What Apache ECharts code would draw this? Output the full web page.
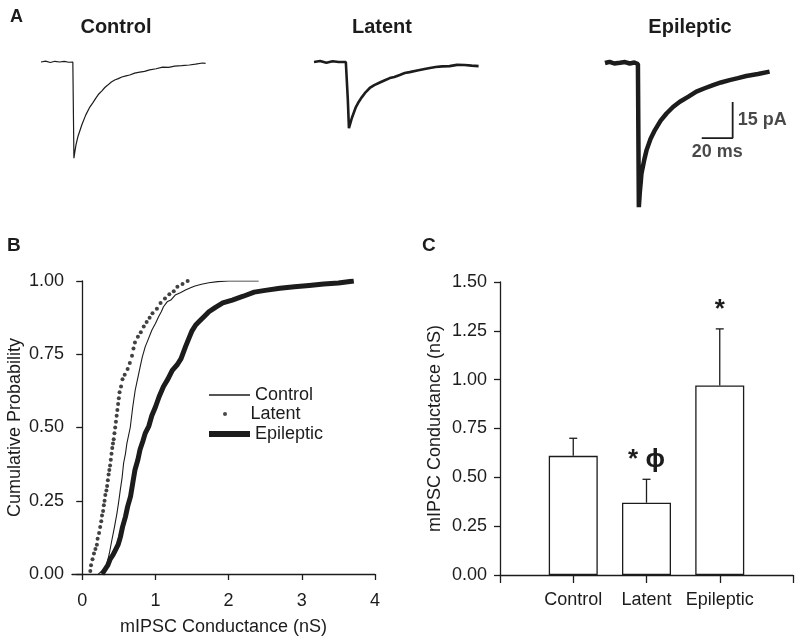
<!DOCTYPE html>
<html><head><meta charset="utf-8">
<script src="https://cdn.jsdelivr.net/npm/echarts@6/dist/echarts.min.js"></script>
<style>html,body{margin:0;padding:0;background:#fff}#c{width:800px;height:644px}</style>
</head><body><div id="c"></div>
<script>
// ---------- Panel A: example mIPSC traces (time in ms, current in pA) ----------
const controlTraceT = [0, 3, 6, 9, 12, 15, 18, 20.6, 21.3, 22.0, 22.6, 23.9, 25.2, 26.5, 29, 31.6, 33.5, 35.5, 37.4, 39.4, 41.3, 43.2, 45.5, 47.7, 50, 52.3, 55, 57.4, 60.6, 63.9, 67, 70.3, 74.5, 78.7, 82.6, 86.5, 91, 96, 100, 104.5, 106.5];
const controlTraceI = [0, 0.4, -0.2, 0.3, 0, 0.3, -0.1, 0, -40, -37, -34.6, -31, -28.5, -26, -22, -18.75, -17, -15, -13.3, -12, -10.6, -9.6, -8.3, -7.5, -6.9, -6.25, -5.8, -5.4, -4.6, -4.2, -3.9, -3.3, -2.8, -2.1, -2.2, -1.7, -1.5, -1.25, -0.9, -0.4, -0.6];
const latentTraceT = [0, 4, 8, 12, 16, 20.6, 21.9, 22.6, 23.5, 24.5, 25.8, 27.1, 29, 31, 33.5, 36.1, 39, 41.9, 45.5, 49, 52, 55.5, 58.7, 61.9, 66.8, 71.6, 75, 78.7, 83, 87.7, 92.5, 97.4, 102, 106.5];
const latentTraceI = [0, 0.4, -0.3, 0.3, 0, 0, -15.8, -27.5, -25.5, -23.3, -21, -18.75, -16.5, -14.6, -12.5, -10.8, -9.6, -8.75, -7.7, -6.7, -6.2, -5.4, -4.6, -4.2, -3.5, -2.9, -2.5, -2.1, -1.8, -1.7, -1.2, -1.25, -1.5, -1.7];
const epiTraceT = [0, 3, 6, 9.7, 13, 16, 19, 21.3, 21.9, 22.5, 23.2, 23.6, 25.5, 26.9, 29.5, 32.3, 36, 39.8, 44, 48.4, 54, 59.1, 64.5, 69.9, 75, 80.6, 86, 91.4, 99, 106.5];
const epiTraceI = [0, 0.5, -0.2, 0.1, 0.4, -0.2, 0.2, -0.4, -60, -54, -49, -46, -40, -36.25, -31.5, -27.9, -24, -21, -18.3, -16.1, -14, -11.9, -10.5, -9.2, -8.1, -7.1, -6.3, -5.4, -4.6, -3.6];
const scaleBarMs = 20, scaleBarPa = 15;
const scaleBarCornerT = 82.6, scaleBarCornerI = -31.25;

// ---------- Panel B: cumulative probability ----------
const controlCdfX = [0.22, 0.27, 0.31, 0.34, 0.37, 0.405, 0.44, 0.474, 0.50, 0.52, 0.545, 0.565, 0.59, 0.61, 0.656, 0.69, 0.724, 0.76, 0.792, 0.82, 0.861, 0.90, 0.952, 1.00, 1.043, 1.08, 1.11, 1.16, 1.21, 1.27, 1.34, 1.41, 1.48, 1.54, 1.63, 1.73, 1.85, 2.00, 2.41];
const controlCdfP = [0, 0.01, 0.02, 0.036, 0.07, 0.116, 0.16, 0.207, 0.25, 0.287, 0.33, 0.378, 0.41, 0.446, 0.50, 0.57, 0.628, 0.67, 0.708, 0.74, 0.776, 0.80, 0.833, 0.855, 0.878, 0.895, 0.912, 0.929, 0.935, 0.952, 0.96, 0.969, 0.977, 0.983, 0.989, 0.994, 0.998, 1.0, 1.0];
const latentCdfX = [0.11, 0.12, 0.14, 0.16, 0.18, 0.20, 0.21, 0.23, 0.245, 0.26, 0.27, 0.285, 0.295, 0.305, 0.315, 0.33, 0.34, 0.35, 0.36, 0.37, 0.38, 0.39, 0.40, 0.41, 0.42, 0.43, 0.44, 0.45, 0.46, 0.47, 0.48, 0.49, 0.50, 0.51, 0.53, 0.55, 0.58, 0.62, 0.65, 0.68, 0.70, 0.72, 0.76, 0.80, 0.84, 0.88, 0.92, 0.96, 1.02, 1.07, 1.13, 1.19, 1.25, 1.30, 1.37, 1.44];
const latentCdfP = [0.01, 0.03, 0.05, 0.07, 0.085, 0.10, 0.12, 0.14, 0.16, 0.18, 0.20, 0.215, 0.235, 0.25, 0.27, 0.285, 0.30, 0.32, 0.34, 0.355, 0.37, 0.39, 0.41, 0.43, 0.445, 0.46, 0.48, 0.50, 0.52, 0.54, 0.56, 0.58, 0.60, 0.62, 0.64, 0.665, 0.68, 0.70, 0.72, 0.745, 0.77, 0.79, 0.81, 0.825, 0.845, 0.86, 0.875, 0.89, 0.905, 0.925, 0.94, 0.955, 0.965, 0.98, 0.99, 1.0];
const epiCdfX = [0.27, 0.31, 0.35, 0.38, 0.42, 0.45, 0.49, 0.52, 0.55, 0.59, 0.62, 0.66, 0.69, 0.72, 0.76, 0.79, 0.83, 0.86, 0.91, 0.95, 1.00, 1.05, 1.11, 1.17, 1.23, 1.30, 1.35, 1.41, 1.45, 1.50, 1.55, 1.61, 1.67, 1.73, 1.82, 1.92, 2.05, 2.20, 2.35, 2.50, 2.70, 2.90, 3.10, 3.30, 3.50, 3.71];
const epiCdfP = [0, 0.015, 0.03, 0.05, 0.065, 0.08, 0.10, 0.125, 0.16, 0.195, 0.23, 0.265, 0.31, 0.355, 0.39, 0.425, 0.455, 0.48, 0.505, 0.54, 0.57, 0.605, 0.64, 0.665, 0.695, 0.715, 0.735, 0.775, 0.80, 0.83, 0.85, 0.865, 0.88, 0.895, 0.91, 0.925, 0.935, 0.948, 0.962, 0.968, 0.975, 0.98, 0.985, 0.99, 0.993, 1.0];
const cdfXTicks = [0, 1, 2, 3, 4];

// ---------- Panel C: mean conductance ----------
const groups = ['Control', 'Latent', 'Epileptic'];
const meanG = [0.61, 0.37, 0.97];
const semG = [0.09, 0.12, 0.29];
const nCells = [21, 5, 24];
const sigMarks = ['', '* \u03D5', '*'];

const FONT = '"Liberation Sans", Arial, Helvetica, sans-serif';
const INK = '#1c1c1c';
const zip = (a, b) => a.map((v, i) => [v, b[i]]);

const chart = echarts.init(document.getElementById('c'), null, {renderer: 'canvas'});

const traceAxisX = i => ({gridIndex: i, type: 'value', min: 0, max: 110, show: false});
const traceAxisY = i => ({gridIndex: i, type: 'value', min: -62, max: 5, show: false});
const axisTxt = {color: INK, fontFamily: FONT, fontSize: 18};
const gridBox = (left, top, width, height) => ({left, top, width, height, containLabel: false, outerBoundsMode: 'none'});

const option = {
  animation: false,
  backgroundColor: '#fff',
  textStyle: {fontFamily: FONT, color: INK},
  grid: [
    gridBox(41, 50, 170, 161),
    gridBox(314, 50, 170, 161),
    gridBox(605, 51, 170, 161),
    gridBox(72, 281, 303, 293),
    gridBox(500, 282, 293, 293)
  ],
  xAxis: [
    traceAxisX(0), traceAxisX(1), traceAxisX(2),
    {gridIndex: 3, type: 'value', min: -0.14, max: 4,
     name: 'mIPSC Conductance (nS)', nameLocation: 'middle', nameGap: 44,
     nameTextStyle: axisTxt,
     axisLine: {onZero: true, lineStyle: {color: INK, width: 1.3}},
     axisTick: {customValues: cdfXTicks, length: 6, lineStyle: {color: INK, width: 1.3}},
     axisLabel: {customValues: cdfXTicks, margin: 18, ...axisTxt},
     splitLine: {show: false}},
    {gridIndex: 4, type: 'value', min: 0, max: 4, interval: 1,
     axisLine: {lineStyle: {color: INK, width: 1.3}},
     axisTick: {length: 8, lineStyle: {color: INK, width: 1.3}},
     axisLabel: {customValues: [1, 2, 3], margin: 16, ...axisTxt,
                 formatter: v => groups[Math.round(v) - 1] || ''},
     splitLine: {show: false}}
  ],
  yAxis: [
    traceAxisY(0), traceAxisY(1), traceAxisY(2),
    {gridIndex: 3, type: 'value', min: 0, max: 1, interval: 0.25,
     name: 'Cumulative Probability', nameLocation: 'middle', nameGap: 48, nameMoveOverlap: false,
     nameTextStyle: axisTxt,
     axisLine: {show: true, onZero: true, lineStyle: {color: INK, width: 1.3}},
     axisTick: {show: true, length: 6, lineStyle: {color: INK, width: 1.3}},
     axisLabel: {margin: 8, ...axisTxt, formatter: v => v.toFixed(2)},
     splitLine: {show: false}},
    {gridIndex: 4, type: 'value', min: 0, max: 1.5, interval: 0.25,
     name: 'mIPSC Conductance (nS)', nameLocation: 'middle', nameGap: 56, nameMoveOverlap: false,
     nameTextStyle: axisTxt,
     axisLine: {show: true, lineStyle: {color: INK, width: 1.3}},
     axisTick: {show: true, length: 6, lineStyle: {color: INK, width: 1.3}},
     axisLabel: {margin: 13, ...axisTxt, formatter: v => v.toFixed(2)},
     splitLine: {show: false}}
  ],
  legend: [
    {data: [{name: 'Control', icon: 'rect'}], left: 204, top: 381, itemWidth: 41, itemHeight: 1.3,
     selectedMode: false, textStyle: {...axisTxt}, itemStyle: {color: INK}},
    {data: [{name: 'Latent', icon: 'circle'}], left: 218, top: 400, itemWidth: 41, itemHeight: 4,
     selectedMode: false, textStyle: {...axisTxt}, itemStyle: {color: INK}},
    {data: [{name: 'Epileptic', icon: 'rect'}], left: 204, top: 420, itemWidth: 41, itemHeight: 6,
     selectedMode: false, textStyle: {...axisTxt}, itemStyle: {color: INK}}
  ],
  graphic: [
    {type: 'text', left: 10, top: 8, style: {text: 'A', font: 'bold 18px ' + FONT, fill: INK}},
    {type: 'text', left: 7, top: 236, style: {text: 'B', font: 'bold 19px ' + FONT, fill: INK}},
    {type: 'text', left: 422, top: 236, style: {text: 'C', font: 'bold 19px ' + FONT, fill: INK}},
    {type: 'text', x: 116, y: 27, style: {text: 'Control', font: 'bold 20px ' + FONT, fill: INK, align: 'center', verticalAlign: 'middle'}},
    {type: 'text', x: 382, y: 27, style: {text: 'Latent', font: 'bold 20px ' + FONT, fill: INK, align: 'center', verticalAlign: 'middle'}},
    {type: 'text', x: 690, y: 27, style: {text: 'Epileptic', font: 'bold 20px ' + FONT, fill: INK, align: 'center', verticalAlign: 'middle'}}
  ],
  series: [
    {name: 'traceControl', type: 'line', xAxisIndex: 0, yAxisIndex: 0, data: zip(controlTraceT, controlTraceI),
     symbol: 'none', lineStyle: {color: INK, width: 1.2}, silent: true},
    {name: 'traceLatent', type: 'line', xAxisIndex: 1, yAxisIndex: 1, data: zip(latentTraceT, latentTraceI),
     symbol: 'none', lineStyle: {color: INK, width: 2.6}, silent: true},
    {name: 'traceEpileptic', type: 'line', xAxisIndex: 2, yAxisIndex: 2, data: zip(epiTraceT, epiTraceI),
     symbol: 'none', lineStyle: {color: INK, width: 4.5}, silent: true},
    {name: 'scaleBar', type: 'line', xAxisIndex: 2, yAxisIndex: 2,
     data: [[scaleBarCornerT - scaleBarMs, scaleBarCornerI], [scaleBarCornerT, scaleBarCornerI], [scaleBarCornerT, scaleBarCornerI + scaleBarPa]],
     symbol: 'none', lineStyle: {color: INK, width: 1.8}, silent: true},
    {name: 'scaleBarLabels', type: 'scatter', xAxisIndex: 2, yAxisIndex: 2, symbolSize: 0, silent: true,
     data: [
       {value: [scaleBarCornerT - scaleBarMs / 2, scaleBarCornerI],
        label: {show: true, position: 'bottom', distance: 5, formatter: scaleBarMs + ' ms'}},
       {value: [scaleBarCornerT, scaleBarCornerI + scaleBarPa / 2],
        label: {show: true, position: 'right', distance: 5, formatter: scaleBarPa + ' pA'}}
     ],
     label: {color: INK, fontFamily: FONT, fontWeight: 'bold', fontSize: 18}},
    {name: 'Control', type: 'line', xAxisIndex: 3, yAxisIndex: 3, data: zip(controlCdfX, controlCdfP),
     symbol: 'none', lineStyle: {color: INK, width: 1.1}, itemStyle: {color: INK}},
    {name: 'Latent', type: 'scatter', xAxisIndex: 3, yAxisIndex: 3, data: zip(latentCdfX, latentCdfP),
     symbol: 'circle', symbolSize: 4, itemStyle: {color: '#111'}},
    {name: 'Epileptic', type: 'line', xAxisIndex: 3, yAxisIndex: 3, data: zip(epiCdfX, epiCdfP),
     symbol: 'none', lineStyle: {color: INK, width: 5}, itemStyle: {color: INK}},
    {name: 'bars', type: 'bar', xAxisIndex: 4, yAxisIndex: 4, data: meanG.map((m, i) => [i + 1, m]),
     barWidth: 49, itemStyle: {color: '#fff', borderColor: INK, borderWidth: 1.3}, silent: true},
    {name: 'errors', type: 'custom', xAxisIndex: 4, yAxisIndex: 4, silent: true,
     data: meanG.map((m, i) => [i + 1, m, m + semG[i]]),
     renderItem: (params, api) => {
       const i = params.dataIndex;
       const x = api.value(0);
       const base = api.coord([x, api.value(1)]);
       const top = api.coord([x, api.value(2)]);
       const zero = api.coord([x, 0]);
       const st = {stroke: INK, lineWidth: 1.3};
       const kids = [
         {type: 'line', shape: {x1: base[0], y1: base[1], x2: top[0], y2: top[1]}, style: st},
         {type: 'line', shape: {x1: top[0] - 4, y1: top[1], x2: top[0] + 4, y2: top[1]}, style: st},
         {type: 'text', x: zero[0], y: zero[1] - 27,
          style: {text: String(nCells[i]), font: '18px ' + FONT, fill: INK, align: 'center', verticalAlign: 'middle'}}
       ];
       if (sigMarks[i]) {
         kids.push({type: 'text', x: top[0], y: top[1] - 19,
           style: {text: sigMarks[i], font: 'bold 26px ' + FONT, fill: INK, align: 'center', verticalAlign: 'middle'}});
       }
       return {type: 'group', children: kids};
     }}
  ]
};
chart.setOption(option);
</script>
</body></html>
